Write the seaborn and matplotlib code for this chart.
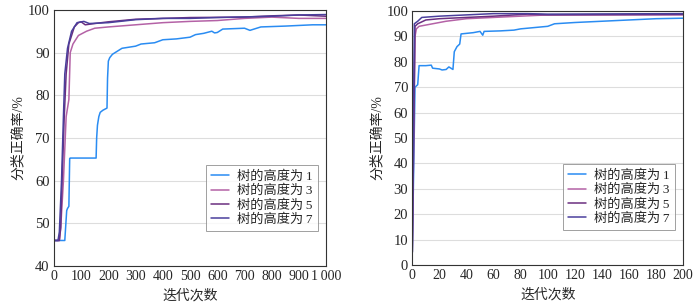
import numpy as np
import pandas as pd
import matplotlib
matplotlib.use("Agg")
import matplotlib.pyplot as plt
import seaborn as sns
from matplotlib.ticker import MultipleLocator, FuncFormatter

# left panel: 0-1000 iterations
depth_labels = ["树的高度为\u20091", "树的高度为\u20093", "树的高度为\u20095", "树的高度为\u20097"]
colors = ["#2a8cf2", "#b462a6", "#6b2f80", "#4a3f9c"]

a_x1 = [0, 40, 43, 47, 50, 55, 58, 60, 100, 155, 157, 160, 165, 170, 180, 195, 197, 200, 205, 215, 230, 250, 300, 320, 370, 400, 450, 500, 520, 550, 580, 590, 600, 620, 700, 720, 760, 850, 950, 1000]
a_y1 = [46, 46, 49, 53, 53.5, 54, 65.2, 65.3, 65.3, 65.3, 70, 73, 75, 76, 76.5, 77, 84, 88, 88.8, 89.6, 90.2, 91, 91.5, 92, 92.3, 93, 93.2, 93.6, 94.2, 94.5, 95, 94.6, 94.7, 95.5, 95.7, 95.2, 96, 96.2, 96.5, 96.5]
a_x3 = [0, 20, 25, 35, 45, 50, 55, 60, 70, 90, 120, 150, 200, 300, 400, 500, 600, 700, 800, 900, 1000]
a_y3 = [46, 46, 49, 60, 75, 77, 79, 90, 92, 94, 95, 95.7, 96, 96.5, 97, 97.3, 97.5, 98, 98.3, 98, 98]
a_x5 = [0, 20, 25, 30, 38, 45, 55, 75, 90, 100, 115, 150, 200, 300, 400, 500, 700, 800, 900, 1000]
a_y5 = [46, 46, 49, 60, 75, 85, 92, 96, 97, 97.2, 96.5, 96.8, 97.2, 97.8, 98, 98.2, 98.3, 98.6, 98.8, 98.5]
a_x7 = [0, 15, 20, 28, 35, 40, 50, 65, 85, 110, 130, 200, 300, 400, 500, 600, 800, 900, 1000]
a_y7 = [46, 46, 48, 60, 75, 85, 91, 95, 97, 97.3, 96.8, 97, 97.7, 98, 98, 98.2, 98.5, 98.8, 98.9]

# right panel: 0-200 iterations
b_x1 = [0, 2, 4, 5, 10, 14, 15, 20, 22, 25, 27, 30, 31, 33, 35, 36, 45, 50, 52, 53, 65, 75, 80, 90, 100, 105, 120, 140, 160, 180, 200]
b_y1 = [5, 70, 71, 78.5, 78.5, 78.7, 77.5, 77.2, 76.8, 77, 78, 77, 84, 86, 87, 91, 91.5, 92, 90.5, 92, 92.2, 92.5, 93, 93.5, 94, 95, 95.5, 96, 96.5, 97, 97.2]
b_x3 = [0, 2, 3, 5, 15, 25, 40, 60, 80, 100, 200]
b_y3 = [5, 90, 93, 94, 95, 96, 97, 97.5, 98, 98.5, 98.5]
b_x5 = [0, 2, 4, 10, 20, 40, 60, 85, 100, 200]
b_y5 = [5, 94, 95, 96.5, 97, 97.5, 98, 98.8, 98.5, 98.7]
b_x7 = [0, 1.5, 4, 7, 20, 40, 60, 85, 100, 200]
b_y7 = [5, 95, 96, 97.5, 98, 98.5, 99, 99, 98.8, 99]


def make_df(xs, ys):
    frames = []
    for lab, x, y in zip(depth_labels, xs, ys):
        frames.append(pd.DataFrame({"iter": x, "acc": y, "depth": lab}))
    return pd.concat(frames, ignore_index=True)


df_a = make_df([a_x1, a_x3, a_x5, a_x7], [a_y1, a_y3, a_y5, a_y7])
df_b = make_df([b_x1, b_x3, b_x5, b_x7], [b_y1, b_y3, b_y5, b_y7])

sns.set_style("white")
plt.rcParams['font.family'] = ['Liberation Serif', 'Noto Sans CJK SC']
plt.rcParams['axes.unicode_minus'] = False

fig = plt.figure(figsize=(7, 3.08), dpi=100)
ax1 = fig.add_axes([0.077, 0.136, 0.389, 0.832])
ax2 = fig.add_axes([0.589, 0.140, 0.387, 0.824])

pal = dict(zip(depth_labels, colors))

for ax, df, xmax, ylim, xmaj, xmin_, ymaj, ymin_ in [
    (ax1, df_a, 1000, (40, 100), 100, 50, 10, 5),
    (ax2, df_b, 200, (0, 100), 20, 10, 10, 5),
]:
    sns.lineplot(data=df, x="iter", y="acc", hue="depth", palette=pal,
                 estimator=None, sort=False, linewidth=1.1, ax=ax)
    ax.set_xlim(0, xmax)
    ax.set_ylim(*ylim)
    ax.xaxis.set_major_locator(MultipleLocator(xmaj))
    ax.xaxis.set_minor_locator(MultipleLocator(xmin_))
    ax.yaxis.set_major_locator(MultipleLocator(ymaj))
    ax.yaxis.set_minor_locator(MultipleLocator(ymin_))
    ax.grid(axis="y", which="major", color="#dddddd", linewidth=0.8)
    ax.set_axisbelow(True)
    ax.tick_params(which="both", direction="in", labelsize=10.5, pad=3)
    ax.tick_params(axis="x", labelsize=10)
    ax.tick_params(which="major", length=3.5)
    ax.tick_params(which="minor", length=2)
    for s in ax.spines.values():
        s.set_color("#333333")
        s.set_linewidth(0.8)
    ax.set_xlabel("迭代次数", fontsize=10, labelpad=4)
    ax.set_ylabel("分类正确率/%", fontsize=10, labelpad=2)
    leg = ax.legend(loc="lower right", fontsize=9.5, frameon=True, fancybox=False,
                    edgecolor="#888888", borderpad=0.4, labelspacing=0.15,
                    handlelength=1.4, handletextpad=0.6,
                    bbox_to_anchor=(0.995, 0.11))
    leg.get_frame().set_linewidth(0.7)

ax1.xaxis.set_major_formatter(FuncFormatter(lambda v, p: "1\u2009000" if v == 1000 else f"{int(v)}"))

fig.savefig("out.png", dpi=100)
